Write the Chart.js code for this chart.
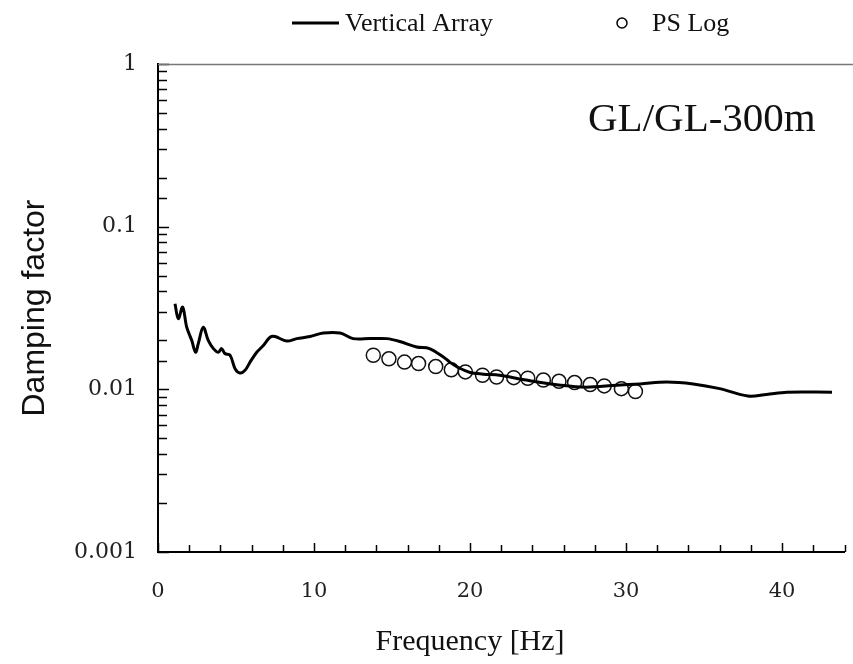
<!DOCTYPE html>
<html>
<head>
<meta charset="utf-8">
<script src="https://cdn.jsdelivr.net/npm/chart.js@4.4.1/dist/chart.umd.min.js"></script>
<style>
  html, body { margin: 0; padding: 0; background: #fff; }
  #wrap { position: relative; width: 853px; height: 664px; }
</style>
</head>
<body>
<div id="wrap"><canvas id="dampChart" width="853" height="664"></canvas></div>
<script>
// ===== Data =====
const freqVA = [1.09, 1.30, 1.58, 1.84, 2.16, 2.41, 2.58, 2.9, 3.22, 3.55, 3.87, 4.08, 4.29, 4.62, 4.94,
  5.26, 5.58, 5.9, 6.33, 6.75, 7.18, 7.5, 8.25, 8.89, 9.74, 10.6, 11.67, 12.5, 13.6, 14.66,
  15.5, 16.58, 17.4, 18.29, 18.7, 19.15, 20.0, 20.85, 21.9, 23.6, 25.8, 27.45, 29.4, 30.9, 32.6,
  34.3, 36.0, 37.8, 39.0, 40.3, 43.2];
const dampVA = [0.0336, 0.0272, 0.032, 0.0241, 0.020, 0.0169, 0.0191, 0.0241, 0.020, 0.0178, 0.0169, 0.0178, 0.0166, 0.0162, 0.0134,
  0.0126, 0.0131, 0.0147, 0.0169, 0.0186, 0.0209, 0.0211, 0.0198, 0.0205, 0.0211, 0.0222, 0.0222, 0.0205, 0.0205, 0.0205,
  0.0197, 0.0182, 0.0178, 0.0158, 0.0147, 0.0138, 0.0127, 0.0124, 0.0122, 0.0114, 0.0106, 0.0103, 0.0106, 0.0108, 0.0111,
  0.0108, 0.0101, 0.0091, 0.0093, 0.0096, 0.0096];

const freqPS = [13.8, 14.8, 15.8, 16.7, 17.8, 18.8, 19.7, 20.8, 21.7, 22.8, 23.7, 24.7, 25.7, 26.7, 27.7, 28.6, 29.7, 30.6];
const dampPS = [0.0162, 0.0154, 0.0147, 0.0144, 0.0138, 0.0132, 0.0128, 0.0122, 0.0119, 0.0118, 0.0117, 0.0114, 0.0112, 0.0110, 0.0107, 0.0105, 0.0101, 0.0097];

const xTickLabels = [0, 10, 20, 30, 40];
const yTickLabels = ['0.001', '0.01', '0.1', '1'];

const seriesNames = ['Vertical Array', 'PS Log'];
const panelLabel = 'GL/GL-300m';
const xTitle = 'Frequency [Hz]';
const yTitle = 'Damping factor';

const toPoints = (xs, ys) => xs.map((x, i) => ({ x: x, y: ys[i] }));

// ===== Inward ticks, top frame, legend and labels =====
const decor = {
  id: 'decor',
  afterDraw(chart) {
    const { ctx, chartArea: a, scales: { x, y } } = chart;
    ctx.save();
    ctx.strokeStyle = '#000';
    ctx.lineWidth = 1.5;
    // y ticks
    y.ticks.forEach(t => {
      const py = Math.round(y.getPixelForValue(t.value)) + 0.5;
      const major = yTickLabels.some(l => Math.abs(parseFloat(l) - t.value) < t.value * 1e-6);
      ctx.beginPath();
      ctx.moveTo(a.left, py);
      ctx.lineTo(a.left + (major ? 11 : 9), py);
      ctx.stroke();
    });
    // x ticks
    x.ticks.forEach(t => {
      if (Math.abs(t.value % 2) > 1e-6) return;
      const px = Math.round(x.getPixelForValue(t.value)) + 0.5;
      const major = xTickLabels.includes(t.value);
      ctx.beginPath();
      ctx.moveTo(px, a.bottom);
      ctx.lineTo(px, a.bottom - (major ? 9 : 7));
      ctx.stroke();
    });
    // top frame
    ctx.strokeStyle = '#777';
    ctx.lineWidth = 1.5;
    ctx.beginPath();
    ctx.moveTo(a.left, a.top + 0.5);
    ctx.lineTo(chart.width, a.top + 0.5);
    ctx.stroke();

    // panel label
    ctx.fillStyle = '#111';
    ctx.font = '41px "Liberation Serif", serif';
    ctx.textAlign = 'left';
    ctx.textBaseline = 'alphabetic';
    ctx.fillText(panelLabel, 588, 131);

    // x title, centred on 20 Hz like the original
    ctx.font = '30px "Liberation Serif", serif';
    ctx.textAlign = 'center';
    ctx.fillText(xTitle, x.getPixelForValue(20), 650);

    // legend
    ctx.font = '26px "Liberation Serif", serif';
    ctx.textAlign = 'left';
    ctx.strokeStyle = '#000';
    ctx.lineWidth = 3;
    ctx.beginPath();
    ctx.moveTo(292, 23);
    ctx.lineTo(339, 23);
    ctx.stroke();
    ctx.fillText(seriesNames[0], 345, 31);
    ctx.lineWidth = 1.5;
    ctx.beginPath();
    ctx.arc(622, 23, 5, 0, Math.PI * 2);
    ctx.stroke();
    ctx.fillText(seriesNames[1], 652, 31);
    ctx.restore();
  }
};

// ===== Chart =====
const ctxDamp = document.getElementById('dampChart').getContext('2d');
new Chart(ctxDamp, {
  type: 'scatter',
  data: {
    datasets: [{
      label: seriesNames[0],
      data: toPoints(freqVA, dampVA),
      showLine: true,
      borderColor: '#000',
      borderWidth: 3,
      pointRadius: 0,
      tension: 0.35
    }, {
      label: seriesNames[1],
      data: toPoints(freqPS, dampPS),
      showLine: false,
      pointRadius: 7,
      pointBorderWidth: 1.5,
      pointBorderColor: '#111',
      pointBackgroundColor: 'rgba(255,255,255,0)'
    }]
  },
  options: {
    responsive: false,
    animation: false,
    layout: { padding: { top: 64, right: 0, bottom: 0, left: 0 } },
    plugins: {
      legend: { display: false },
      tooltip: { enabled: false }
    },
    scales: {
      x: {
        type: 'linear',
        min: 0,
        max: 44,
        afterFit(scale) {
          scale.height = 112;
          scale.paddingLeft = 0;
          scale.paddingRight = 0;
        },
        grid: { display: false, drawTicks: false },
        border: { display: true, color: '#000', width: 2 },
        ticks: {
          stepSize: 2,
          autoSkip: false,
          maxRotation: 0,
          padding: 27,
          color: '#222',
          font: { family: '"DejaVu Serif", serif', size: 21 },
          callback: v => xTickLabels.includes(v) ? String(v) : ''
        }
      },
      y: {
        type: 'logarithmic',
        min: 0.001,
        max: 1,
        afterFit(scale) {
          scale.width = 158;
          scale.paddingTop = 0;
          scale.paddingBottom = 0;
        },
        grid: { display: false, drawTicks: false },
        border: { display: true, color: '#000', width: 2 },
        title: {
          display: true,
          text: yTitle,
          color: '#111',
          padding: { top: 16, bottom: 0 },
          font: { family: '"Liberation Sans", Arial, sans-serif', size: 32 }
        },
        ticks: {
          autoSkip: false,
          padding: 21,
          color: '#222',
          font: { family: '"DejaVu Serif", serif', size: 22 },
          callback: v => {
            const hit = yTickLabels.find(l => Math.abs(parseFloat(l) - v) < v * 1e-6);
            return hit || '';
          }
        }
      }
    }
  },
  plugins: [decor]
});
</script>
</body>
</html>
